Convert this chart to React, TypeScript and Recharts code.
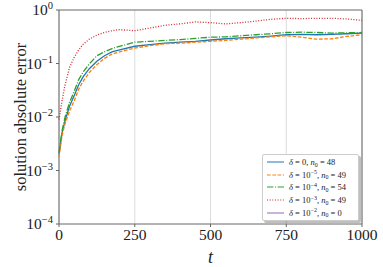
import React from "react";
import {
  LineChart,
  Line,
  XAxis,
  YAxis,
  CartesianGrid,
  Legend,
  ReferenceArea,
} from "recharts";

// time samples
const times = [0, 10, 20, 35, 50, 65, 80, 100, 125, 150, 175, 200, 250, 300, 350, 400, 450, 500, 550, 600, 650, 700, 750, 800, 850, 900, 950, 1000];

// error curves per delta
const delta0 = [0.002, 0.005, 0.0085, 0.016, 0.025, 0.04, 0.057, 0.08, 0.11, 0.14, 0.165, 0.18, 0.21, 0.225, 0.24, 0.25, 0.26, 0.275, 0.29, 0.3, 0.31, 0.325, 0.345, 0.35, 0.345, 0.35, 0.36, 0.37];
const delta1e5 = [0.0018, 0.0045, 0.0075, 0.013, 0.02, 0.033, 0.047, 0.068, 0.095, 0.125, 0.15, 0.165, 0.195, 0.215, 0.235, 0.24, 0.25, 0.26, 0.27, 0.285, 0.3, 0.315, 0.33, 0.31, 0.285, 0.29, 0.32, 0.345];
const delta1e4 = [0.0022, 0.0055, 0.01, 0.019, 0.03, 0.05, 0.07, 0.098, 0.14, 0.165, 0.19, 0.21, 0.25, 0.26, 0.27, 0.28, 0.295, 0.31, 0.315, 0.33, 0.345, 0.36, 0.38, 0.385, 0.38, 0.37, 0.375, 0.38];
const delta1e3 = [0.009, 0.02, 0.04, 0.085, 0.13, 0.18, 0.23, 0.285, 0.34, 0.38, 0.41, 0.43, 0.41, 0.46, 0.52, 0.55, 0.6, 0.58, 0.55, 0.58, 0.62, 0.67, 0.7, 0.69, 0.7, 0.7, 0.68, 0.64];

const xTicks = [0, 250, 500, 750, 1000];
const yTicks = [1e-4, 1e-3, 1e-2, 1e-1, 1];
const yMinor = [1e-4, 1e-3, 1e-2, 1e-1].flatMap((d) => [2, 3, 4, 5, 6, 7, 8, 9].map((m) => m * d));

const data = times.map((t, i) => ({
  t,
  d0: delta0[i],
  d5: delta1e5[i],
  d4: delta1e4[i],
  d3: delta1e3[i],
  d2: null,
}));

const series = [
  { key: "d0", color: "#1f77b4", dash: undefined, exp: null, n0: 48 },
  { key: "d5", color: "#ff7f0e", dash: "3.7 1.6", exp: "5", n0: 49 },
  { key: "d4", color: "#2ca02c", dash: "6.4 1.6 1 1.6", exp: "4", n0: 54 },
  { key: "d3", color: "#d62728", dash: "1 1.65", exp: "3", n0: 49 },
  { key: "d2", color: "#9467bd", dash: undefined, exp: "2", n0: 0 },
];

const FONT = "'Times New Roman', 'Liberation Serif', Times, serif";

const YTick = ({ x, y, payload }: any) => {
  const e = Math.round(Math.log10(payload.value));
  return (
    <text x={x} y={y + 5} textAnchor="end" style={{ fontFamily: FONT }} fontSize={15.5} fill="#222">
      <tspan>10</tspan>
      <tspan dy={-6} fontSize={10.5}>{e === 0 ? "0" : "\u2212" + -e}</tspan>
    </text>
  );
};

const XTick = ({ x, y, payload }: any) => (
  <text x={x} y={y + 11} textAnchor="middle" style={{ fontFamily: FONT }} fontSize={15.5} fill="#222">
    {payload.value}
  </text>
);

const NoTick = () => <g />;

const renderLegend = () => (
  <div
    style={{
      background: "#fff",
      border: "1px solid #ccc",
      borderRadius: 2,
      boxShadow: "2px 2px 0 rgba(0,0,0,0.25)",
      padding: "1px 4px",
      fontFamily: FONT,
      fontSize: 8.5,
      color: "#222",
    }}
  >
    {series.map((s) => (
      <div key={s.key} style={{ display: "flex", alignItems: "center", height: 12.6 }}>
        <svg width={17} height={6} style={{ marginRight: 5, flexShrink: 0 }}>
          <line x1={0} y1={3} x2={17} y2={3} stroke={s.color} strokeWidth={1} strokeDasharray={s.dash} />
        </svg>
        <span style={{ whiteSpace: "nowrap" }}>
          <i>δ</i> = {s.exp === null ? "0" : <>10<span style={{ fontSize: 6, position: "relative", top: -3.5 }}>{"\u2212" + s.exp}</span></>}, <i>n</i>
          <span style={{ fontSize: 6, position: "relative", top: 1.5 }}>0</span> = {s.n0}
        </span>
      </div>
    ))}
  </div>
);

export default function App() {
  return (
    <div style={{ position: "fixed", left: 0, top: 0, width: 383, height: 267, background: "#fff", fontFamily: FONT }}>
      <LineChart width={383} height={267} data={data} margin={{ top: 10, right: 21, left: 0, bottom: 0 }} style={{ fontFamily: FONT }}>
        <CartesianGrid stroke="#dcdcdc" strokeWidth={1} horizontalValues={yTicks} verticalValues={xTicks} />
        <XAxis
          dataKey="t"
          type="number"
          domain={[0, 1000]}
          ticks={xTicks}
          height={43}
          tickSize={3}
          tick={<XTick />}
          stroke="#666"
          axisLine={false}
          label={{ value: "t", position: "insideBottom", offset: 4, style: { fontFamily: FONT, fontStyle: "italic" }, fontSize: 18, fill: "#222" }}
        />
        <YAxis
          yAxisId="main"
          scale="log"
          domain={[1e-4, 1]}
          ticks={yTicks}
          allowDataOverflow
          width={59}
          tickSize={3}
          tickMargin={3}
          tick={<YTick />}
          stroke="#666"
          axisLine={false}
          label={{ value: "solution absolute error", angle: -90, position: "insideLeft", offset: 20, style: { textAnchor: "middle", fontFamily: FONT }, fontSize: 16.5, fill: "#222" }}
        />
        <YAxis
          yAxisId="minor"
          orientation="left"
          scale="log"
          domain={[1e-4, 1]}
          ticks={yMinor}
          allowDataOverflow
          width={0}
          tickSize={2}
          tick={<NoTick />}
          tickLine={{ stroke: "#666" }}
          axisLine={false}
        />
        {series.map((s) => (
          <Line
            key={s.key}
            yAxisId="main"
            dataKey={s.key}
            stroke={s.color}
            strokeWidth={1.3}
            strokeDasharray={s.dash}
            dot={false}
            isAnimationActive={false}
            connectNulls={false}
          />
        ))}
        <ReferenceArea yAxisId="main" x1={0} x2={1000} y1={1e-4} y2={1} fill="none" stroke="#666" strokeWidth={1} ifOverflow="visible" />
        <Legend
          layout="horizontal"
          verticalAlign="middle"
          align="center"
          content={renderLegend}
          wrapperStyle={{ left: 262, top: 154, width: 97 }}
        />
      </LineChart>
    </div>
  );
}
